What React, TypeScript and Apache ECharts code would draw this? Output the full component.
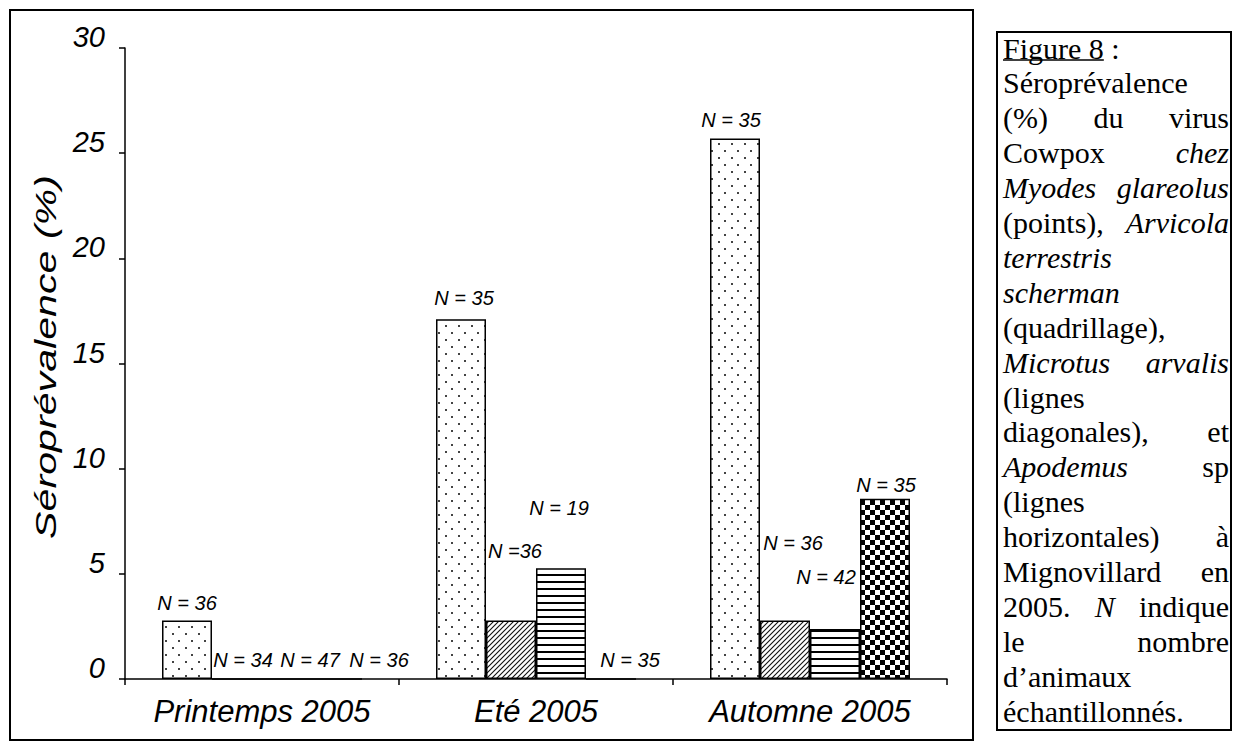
import React, { useEffect, useRef } from 'react';
import * as echarts from 'echarts';

// ---------- data ----------
const categories = ['Printemps 2005', 'Eté 2005', 'Automne 2005'];
const myodes = [2.78, 17.1, 25.7];
const microtus = [0, 2.78, 2.78];
const apodemus = [0, 5.26, 2.38];
const arvicola = [0, 0, 8.57];
const myodesN = ['N = 36', 'N = 35', 'N = 35'];
const microtusN = ['N = 34', 'N =36', 'N = 36'];
const apodemusN = ['N = 47', 'N = 19', 'N = 42'];
const arvicolaN = ['N = 36', 'N = 35', 'N = 35'];

// label placement tweaks (layout, not data)
const myodesOff = [[0, -3], [3, -6], [-4, -3]];
const microtusOff = [[6, -3], [4, -55], [8, -63]];
const apodemusOff = [[23, -3], [-2, -45], [-9, -37]];
const arvicolaOff = [[42, -3], [19, -3], [1, 1]];

const yTitle = 'Séroprévalence (%)';

type Tok = [string, boolean];
const captionLines: { toks: Tok[]; justify: boolean }[] = [
  { toks: [['Figure 8 :', false]], justify: false },
  { toks: [['Séroprévalence', false]], justify: false },
  { toks: [['(%)', false], ['du', false], ['virus', false]], justify: true },
  { toks: [['Cowpox', false], ['chez', true]], justify: true },
  { toks: [['Myodes', true], ['glareolus', true]], justify: true },
  { toks: [['(points),', false], ['Arvicola', true]], justify: true },
  { toks: [['terrestris', true]], justify: false },
  { toks: [['scherman', true]], justify: false },
  { toks: [['(quadrillage),', false]], justify: false },
  { toks: [['Microtus', true], ['arvalis', true]], justify: true },
  { toks: [['(lignes', false]], justify: false },
  { toks: [['diagonales),', false], ['et', false]], justify: true },
  { toks: [['Apodemus', true], ['sp', false]], justify: true },
  { toks: [['(lignes', false]], justify: false },
  { toks: [['horizontales)', false], ['à', false]], justify: true },
  { toks: [['Mignovillard', false], ['en', false]], justify: true },
  { toks: [['2005.', false], ['N', true], ['indique', false]], justify: true },
  { toks: [['le', false], ['nombre', false]], justify: true },
  { toks: [['d’animaux', false]], justify: false },
  { toks: [['échantillonnés.', false]], justify: false },
];

const SANS = '"Liberation Sans", Arial, sans-serif';
const SERIF = '"Liberation Serif", "Times New Roman", serif';

function makeTile(w: number, h: number, draw: (ctx: CanvasRenderingContext2D) => void) {
  const c = document.createElement('canvas');
  c.width = w;
  c.height = h;
  const ctx = c.getContext('2d')!;
  ctx.fillStyle = '#ffffff';
  ctx.fillRect(0, 0, w, h);
  draw(ctx);
  return c;
}

export default function App() {
  const ref = useRef<HTMLDivElement>(null);

  useEffect(() => {
    if (!ref.current) return;
    const chart = echarts.init(ref.current, undefined, { renderer: 'svg' });

    const dots = makeTile(13, 14, (ctx) => {
      ctx.fillStyle = '#444';
      ctx.fillRect(3, 3, 2, 2);
      ctx.fillRect(9, 10, 2, 2);
    });
    const diag = makeTile(5, 5, (ctx) => {
      ctx.strokeStyle = '#111';
      ctx.lineWidth = 1.1;
      ctx.beginPath();
      ctx.moveTo(-1, 6); ctx.lineTo(6, -1);
      ctx.moveTo(-3, 3); ctx.lineTo(3, -3);
      ctx.moveTo(2, 8); ctx.lineTo(8, 2);
      ctx.stroke();
    });
    const horiz = makeTile(4, 7, (ctx) => {
      ctx.fillStyle = '#000';
      ctx.fillRect(0, 0, 4, 2);
    });
    const checker = makeTile(10, 10, (ctx) => {
      ctx.fillStyle = '#000';
      ctx.fillRect(0, 0, 5, 5);
      ctx.fillRect(5, 5, 5, 5);
    });
    const pat = (c: HTMLCanvasElement) => ({
      image: c,
      repeat: 'repeat',
      imageWidth: c.width,
      imageHeight: c.height,
    });

    const mk = (name: string, vals: number[], labels: string[], offs: number[][], tile: HTMLCanvasElement) => ({
      type: 'bar',
      name,
      barWidth: 50,
      barGap: '0%',
      data: vals.map((v, i) => ({
        value: v,
        label: { formatter: labels[i], offset: offs[i] },
      })),
      itemStyle: { color: pat(tile), borderColor: '#000', borderWidth: 1.5 },
      label: {
        show: true,
        position: 'top',
        distance: 5,
        fontFamily: SANS,
        fontStyle: 'italic',
        fontSize: 20,
        color: '#000',
      },
    });

    // caption layout with justification
    const measure = document.createElement('canvas').getContext('2d')!;
    const fontOf = (it: boolean) => `${it ? 'italic ' : ''}30px ${SERIF}`;
    const L = 1003;
    const R = 1229;
    const y0 = 48;
    const pitch = 34.9;
    const captionEls: any[] = [];
    captionLines.forEach((line, li) => {
      const y = y0 + li * pitch;
      const widths = line.toks.map(([t, it]) => {
        measure.font = fontOf(it);
        return measure.measureText(t).width;
      });
      measure.font = fontOf(false);
      const space = measure.measureText(' ').width;
      let gap = space;
      if (line.justify && line.toks.length > 1) {
        const tot = widths.reduce((a, b) => a + b, 0);
        gap = (R - L - tot) / (line.toks.length - 1);
      }
      let x = L;
      line.toks.forEach(([t, it], ti) => {
        captionEls.push({
          type: 'text',
          x,
          y,
          silent: true,
          style: {
            text: t,
            font: fontOf(it),
            fill: '#000',
            textAlign: 'left',
            textVerticalAlign: 'middle',
          },
        });
        x += widths[ti] + gap;
      });
      if (li === 0) {
        measure.font = fontOf(false);
        const uw = measure.measureText('Figure 8').width;
        captionEls.push({
          type: 'line',
          silent: true,
          shape: { x1: L, y1: y + 12, x2: L + uw, y2: y + 12 },
          style: { stroke: '#000', lineWidth: 1.5 },
        });
      }
    });

    chart.setOption({
      animation: false,
      backgroundColor: '#ffffff',
      grid: { left: 125, right: 286, top: 48, bottom: 70, containLabel: false },
      xAxis: {
        type: 'category',
        data: categories,
        axisLine: { show: true, lineStyle: { color: '#000', width: 1.5 } },
        axisTick: { show: true, length: 6, lineStyle: { color: '#000', width: 1.5 } },
        axisLabel: {
          interval: 0,
          fontFamily: SANS,
          fontStyle: 'italic',
          fontSize: 31,
          color: '#000',
          margin: 17,
        },
      },
      yAxis: {
        type: 'value',
        min: 0,
        max: 30,
        interval: 5,
        axisLine: { show: true, lineStyle: { color: '#000', width: 1.5 } },
        axisTick: { show: true, length: 6, lineStyle: { color: '#000', width: 1.5 } },
        splitLine: { show: false },
        axisLabel: {
          fontFamily: SANS,
          fontStyle: 'italic',
          fontSize: 29,
          color: '#000',
          margin: 20,
          verticalAlign: 'bottom',
          lineHeight: 22,
        },
      },
      series: [
        mk('Myodes glareolus', myodes, myodesN, myodesOff, dots),
        mk('Microtus arvalis', microtus, microtusN, microtusOff, diag),
        mk('Apodemus sp', apodemus, apodemusN, apodemusOff, horiz),
        mk('Arvicola terrestris scherman', arvicola, arvicolaN, arvicolaOff, checker),
      ],
      graphic: [
        {
          type: 'rect',
          silent: true,
          shape: { x: 10, y: 10, width: 963, height: 730 },
          style: { fill: 'none', stroke: '#000', lineWidth: 2 },
        },
        {
          type: 'rect',
          silent: true,
          shape: { x: 997, y: 32, width: 234, height: 698 },
          style: { fill: 'none', stroke: '#000', lineWidth: 2 },
        },
        {
          type: 'text',
          silent: true,
          x: 46,
          y: 357,
          rotation: Math.PI / 2,
          scaleX: 1.42,
          scaleY: 1,
          style: {
            text: yTitle,
            font: `italic 29px ${SANS}`,
            fill: '#000',
            textAlign: 'center',
            textVerticalAlign: 'middle',
          },
        },
        ...captionEls,
      ],
    });

    return () => chart.dispose();
  }, []);

  return (
    <div
      ref={ref}
      style={{ position: 'fixed', left: 0, top: 0, width: 1233, height: 749, background: '#fff' }}
    />
  );
}
